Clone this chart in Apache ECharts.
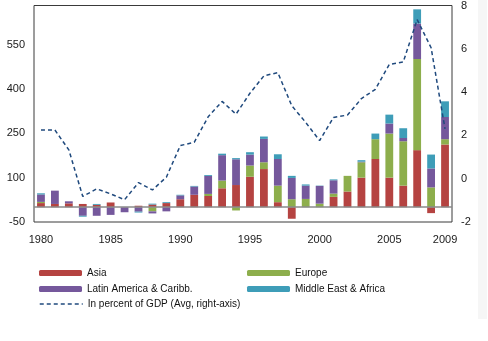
<!DOCTYPE html>
<html>
<head>
<meta charset="utf-8">
<script src="https://cdn.jsdelivr.net/npm/echarts@6/dist/echarts.min.js"></script>
<style>
html,body{margin:0;padding:0;background:#fff;}
#chart{width:488px;height:341px;}
</style>
</head>
<body>
<div id="chart"></div>
<script>
const years = ['1980','1981','1982','1983','1984','1985','1986','1987','1988','1989',
  '1990','1991','1992','1993','1994','1995','1996','1997','1998','1999',
  '2000','2001','2002','2003','2004','2005','2006','2007','2008','2009'];
const asia = [14,11,13,11,8,16,0,5,9,14,27,42,38,64,75,103,129,17,-39,0,0,35,53,100,163,100,73,193,-20,212];
const europe = [4,0,0,0,0,0,0,0,-14,0,0,0,7,26,-11,38,23,56,27,28,12,11,53,52,67,149,150,308,67,18];
const latam = [25,45,7,-29,-29,-26,-17,-15,-7,-14,13,28,61,86,87,37,79,90,72,45,60,45,0,2,0,34,11,120,64,75];
const mideast = [4,0,0,-3,3,0,0,-3,3,3,2,2,3,5,4,8,8,16,7,4,1,3,0,5,19,30,33,48,47,53];
const pctGDP = [2.25,2.25,1.33,-0.82,-0.47,-0.70,-0.97,-0.18,-0.52,0.07,1.53,1.68,2.86,3.57,2.98,3.95,4.75,4.9,3.37,2.6,1.76,2.83,2.94,3.7,4.13,5.28,5.39,7.35,6.05,2.3];
const leftTicks = {min:-50, max:682, interval:150};
const rightTicks = {min:-2, max:8, interval:2};

const C = {asia:'#B54341', europe:'#8DAE4C', latam:'#75589C', mideast:'#3E9DB8', line:'#1F497D'};
const font = 'Arial, "Liberation Sans", sans-serif';

const chart = echarts.init(document.getElementById('chart'), null, {renderer:'canvas'});
function lg(name, left, top, extra){
  return Object.assign({data:[name], left:left, top:top, orient:'horizontal', padding:0,
    itemWidth:43, itemHeight:6, itemGap:0, selectedMode:false,
    textStyle:{fontFamily:font, fontSize:10, color:'#111'}}, extra||{});
}
const barSeries = (name, data, color, extra) => Object.assign({
  name:name, type:'bar', stack:'total', data:data, barWidth:'56%',
  itemStyle:{color:color}, emphasis:{disabled:true}
}, extra||{});

chart.setOption({
  animation:false,
  backgroundColor:'#fff',
  graphic:[{type:'rect', shape:{x:478, y:0, width:9, height:319}, style:{fill:'#f6f6f6'}, silent:true, z:-10}],
  grid:{left:34, right:36, top:4, bottom:119, show:true, borderColor:'#3a3a3a', borderWidth:1, backgroundColor:'transparent'},
  legend:[
    lg('Asia', 39, 268),
    lg('Europe', 247, 268),
    lg('Latin America & Caribb.', 39, 284),
    lg('Middle East & Africa', 247, 284),
    lg('In percent of GDP (Avg, right-axis)', 39, 299, {itemStyle:{opacity:0}, lineStyle:{color:C.line, width:1.5, type:[4,3], opacity:1}})
  ],
  xAxis:{type:'category', data:years, boundaryGap:true,
    axisLine:{show:false, onZero:false}, axisTick:{show:false},
    axisLabel:{fontFamily:font, fontSize:11, color:'#1a1a1a', margin:12,
      interval:(i)=> i%5===0 || i===years.length-1}},
  yAxis:[
    {type:'value', min:leftTicks.min, max:leftTicks.max, interval:leftTicks.interval,
      splitLine:{show:false}, axisLine:{show:false}, axisTick:{show:false},
      axisLabel:{fontFamily:font, fontSize:11, color:'#1a1a1a', margin:9, showMaxLabel:false}},
    {type:'value', min:rightTicks.min, max:rightTicks.max, interval:rightTicks.interval, position:'right',
      splitLine:{show:false}, axisLine:{show:false}, axisTick:{show:false},
      axisLabel:{fontFamily:font, fontSize:11, color:'#1a1a1a', margin:9}}
  ],
  series:[
    barSeries('Asia', asia, C.asia, {markLine:{silent:true, symbol:'none', label:{show:false},
      lineStyle:{color:'#8a8a8a', width:1.5, type:'solid'}, data:[{yAxis:0}]}}),
    barSeries('Europe', europe, C.europe),
    barSeries('Latin America & Caribb.', latam, C.latam),
    barSeries('Middle East & Africa', mideast, C.mideast),
    {name:'In percent of GDP (Avg, right-axis)', type:'line', yAxisIndex:1, data:pctGDP,
      symbol:'none', showSymbol:false, z:5, emphasis:{disabled:true},
      itemStyle:{color:C.line},
      lineStyle:{color:C.line, width:1.5, type:[4,3]}}
  ]
});
</script>
</body>
</html>
